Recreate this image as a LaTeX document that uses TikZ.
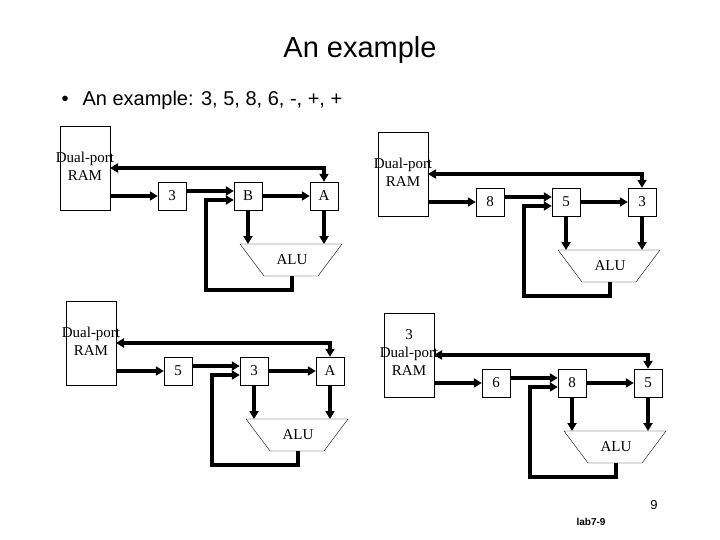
\documentclass[tikz,border=0pt]{standalone}
\usepackage{fontspec}
\setmainfont{Liberation Serif}
\setsansfont{Liberation Sans}
\usetikzlibrary{arrows.meta}
\newcommand{\dpquad}[7]{%
\begin{scope}[shift={(#1,#2)}]
\node[ram] (#7r) at (85,168) {};
\node[lab,align=center] at (85,166) {#3};
\node[reg] (#7a) at (172,196) {#4};
\node[reg] (#7b) at (248,196) {#5};
\node[reg] (#7c) at (324,196) {#6};
\draw[thin] (240,244) -- (342,244) -- (318,276) -- (264,276) -- cycle;
\node[lab] (#7alu) at (292,260) {ALU};
\coordinate (#7d1) at (110,168);
\coordinate (#7t) at (292,244);
\coordinate (#7o) at (292,276);
\coordinate (#7l1) at (292,290);
\coordinate (#7l2) at (206,200);
\draw[arr,{Triangle[length=8pt,width=9pt]}-{Triangle[length=8pt,width=9pt]}] (#7d1) -| (#7c.north);
\draw[arr] (#7r.east |- #7a.west) -- (#7a.west);
\draw[arr] ([yshift=5pt]#7a.east) -- ([yshift=5pt]#7b.west);
\draw[arr] (#7b.east) -- (#7c.west);
\draw[arr] (#7b.south) -- (#7b.south |- #7t);
\draw[arr] (#7c.south) -- (#7c.south |- #7t);
\draw[arr] (#7o) -- (#7l1) -| (#7l2) -- ([yshift=-4pt]#7b.west);
\end{scope}}
\begin{document}
\begin{tikzpicture}[x=1pt,y=-1pt,
  ram/.style={draw,thin,minimum width=50pt,minimum height=84pt,inner sep=0},
  reg/.style={draw,thin,minimum size=28pt,inner sep=0,font=\fontsize{15}{15}\selectfont},
  lab/.style={font=\fontsize{15}{18}\selectfont,inner sep=0},
  arr/.style={line width=4pt,-{Triangle[length=8pt,width=9pt]}}]
\useasboundingbox (0,0) rectangle (720,540);
\node[font=\sffamily\fontsize{29}{30}\selectfont] (title) at (360,50) {An example};
\node[anchor=west,font=\sffamily\fontsize{20}{22}\selectfont] (bul) at (58,100) {\textbullet\hspace{14pt}An example: 3, 5, 8, 6, -, +, +};
\dpquad{0}{0}{Dual-port\\RAM}{3}{B}{A}{q}
\dpquad{318}{6}{Dual-port\\RAM}{8}{5}{3}{w}
\dpquad{6}{175}{Dual-port\\RAM}{5}{3}{A}{e}
\dpquad{324}{187}{3\\Dual-port\\RAM}{6}{8}{5}{s}
\node[font=\sffamily\fontsize{13}{13}\selectfont] (pg) at (654,505) {9};
\node[font=\sffamily\bfseries\fontsize{10}{10}\selectfont] (lb) at (591,522) {lab7-9};
\end{tikzpicture}
\end{document}
